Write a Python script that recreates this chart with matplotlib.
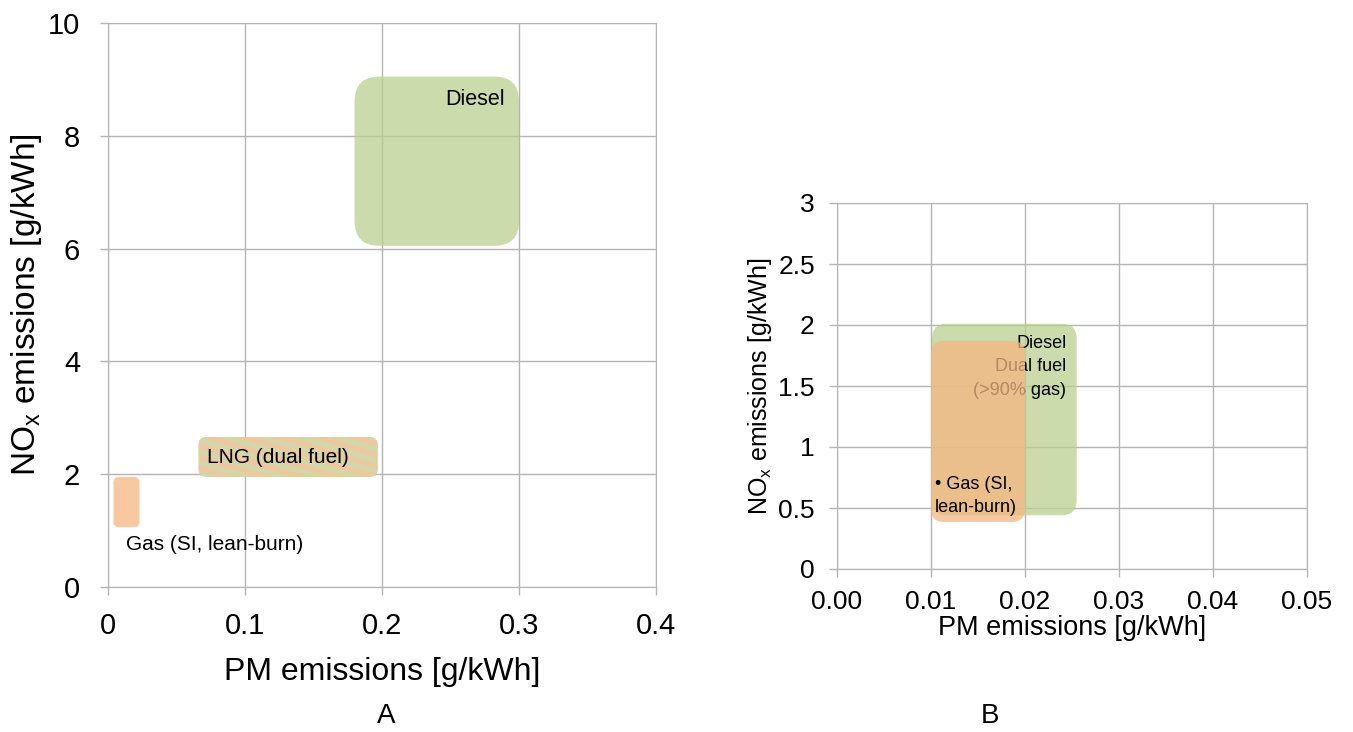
import matplotlib.pyplot as plt
import numpy as np
from matplotlib.patches import FancyBboxPatch

plt.rcParams['font.family'] = ['Liberation Sans', 'DejaVu Sans']

# panel A: emission ranges (PM min, PM max, NOx min, NOx max)
diesel_a = [0.18, 0.30, 6.05, 9.05]
lng_a = [0.066, 0.197, 1.95, 2.66]
gas_a = [0.004, 0.023, 1.06, 1.95]
xticks_a = [0, 0.1, 0.2, 0.3, 0.4]
yticks_a = [0, 2, 4, 6, 8, 10]

# panel B
diesel_b = [0.0101, 0.0255, 0.44, 2.01]
gas_b = [0.0100, 0.0200, 0.385, 1.87]
xticks_b = [0.00, 0.01, 0.02, 0.03, 0.04, 0.05]
yticks_b = [0, 0.5, 1, 1.5, 2, 2.5, 3]

green = '#bbcf90'
orange = '#f6b680'
grid_c = '#b4b4b4'

fig = plt.figure(figsize=(13.53, 7.32), dpi=100)
axA = fig.add_axes([108 / 1353, 1 - 587 / 732, 548 / 1353, 564 / 732])
axB = fig.add_axes([837 / 1353, 1 - 569 / 732, 470 / 1353, 366 / 732])


def style(ax, xt, yt, fs, fmt, xpad, ypad):
    ax.set_xlim(xt[0], xt[-1])
    ax.set_ylim(yt[0], yt[-1])
    ax.set_xticks(xt)
    ax.set_yticks(yt)
    ax.set_xticklabels([fmt(v) for v in xt], fontsize=fs)
    ax.set_yticklabels([('%g' % v) for v in yt], fontsize=fs)
    ax.grid(True, color=grid_c, lw=1)
    ax.set_axisbelow(True)
    for s in ax.spines.values():
        s.set_color(grid_c)
    ax.tick_params(colors=grid_c, labelcolor='black', length=6, width=1)
    ax.tick_params(axis='x', pad=xpad)
    ax.tick_params(axis='y', pad=ypad)


def box(ax, r, color, rad, aspect, z, alpha=0.75):
    p = FancyBboxPatch((r[0], r[2]), r[1] - r[0], r[3] - r[2],
                       boxstyle='round,pad=0,rounding_size=%g' % rad,
                       mutation_aspect=aspect, fc=color, ec='none',
                       alpha=alpha, zorder=z)
    ax.add_patch(p)
    return p


# ---- panel A
style(axA, xticks_a, yticks_a, 21, lambda v: '%g' % v, 12, 14)
axA.set_xlabel('PM emissions [g/kWh]', fontsize=23, labelpad=12)
axA.set_ylabel('NO$_\\mathregular{x}$ emissions [g/kWh]', fontsize=24, labelpad=3)
aspA = (10 / 564) / (0.4 / 548)

box(axA, diesel_a, green, 0.018, aspA, 2)
box(axA, gas_a, orange, 0.004, aspA, 2)

# striped LNG box
p = box(axA, lng_a, 'none', 0.006, aspA, 3, alpha=1)
xx, yy = np.meshgrid(np.arange(180), np.arange(40))
t = 0.5 + 0.4 * np.sin(2 * np.pi * (yy + 0.3 * xx) / 11)
g = np.array([204, 219, 172]) / 255
o = np.array([244, 196, 158]) / 255
img = t[..., None] * g + (1 - t[..., None]) * o
im = axA.imshow(img, extent=(lng_a[0], lng_a[1], lng_a[2], lng_a[3]),
                aspect='auto', origin='lower', zorder=3, interpolation='bilinear')
im.set_clip_path(p)

axA.text(0.29, 8.65, 'Diesel', ha='right', va='center', fontsize=15.5, zorder=5)
axA.text(0.072, 2.29, 'LNG (dual fuel)', ha='left', va='center', fontsize=15, zorder=5)
axA.text(0.013, 0.75, 'Gas (SI, lean-burn)', ha='left', va='center', fontsize=15, zorder=5)

# ---- panel B
style(axB, xticks_b, yticks_b, 19, lambda v: '%.2f' % v, 9, 10)
axB.set_xlabel('PM emissions [g/kWh]', fontsize=19.5, labelpad=1)
axB.set_ylabel('NO$_\\mathregular{x}$ emissions [g/kWh]', fontsize=18, labelpad=3)
aspB = (3 / 366) / (0.05 / 470)

box(axB, diesel_b, green, 0.0016, aspB, 2)
for yv, s in zip([1.852, 1.656, 1.467], ['Diesel', 'Dual fuel', '(>90% gas)']):
    axB.text(0.0244, yv, s, ha='right', va='center', fontsize=13, zorder=3)
box(axB, gas_b, orange, 0.0014, aspB, 4)
axB.text(0.0104, 0.689, '\u2022 Gas (SI,', ha='left', va='center', fontsize=13, zorder=5)
axB.text(0.0104, 0.508, 'lean-burn)', ha='left', va='center', fontsize=13, zorder=5)

fig.text(386 / 1353, 1 - 716 / 732, 'A', ha='center', va='center', fontsize=20)
fig.text(990 / 1353, 1 - 716 / 732, 'B', ha='center', va='center', fontsize=20)

fig.savefig('out.png', dpi=100)
